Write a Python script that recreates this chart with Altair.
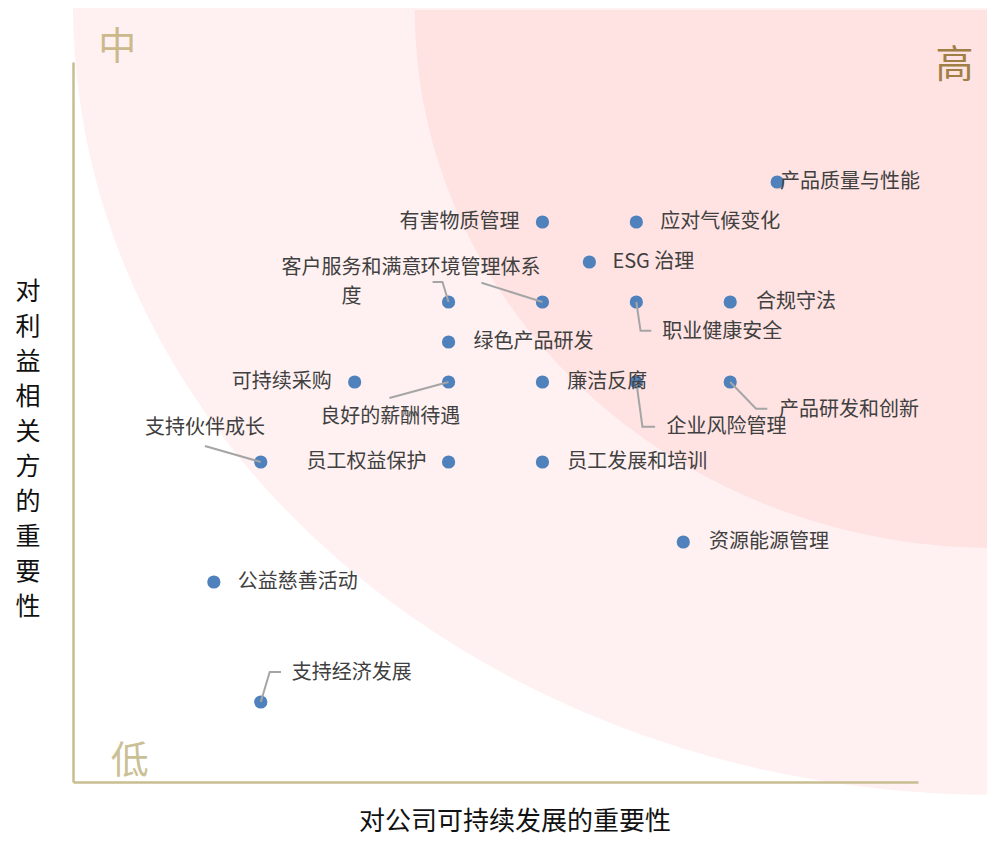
import altair as alt
import pandas as pd

# ---------------- data ----------------
topics = ["产品质量与性能", "有害物质管理", "应对气候变化", "ESG 治理", "客户服务和满意度",
          "环境管理体系", "合规守法", "职业健康安全", "绿色产品研发", "可持续采购",
          "良好的薪酬待遇", "廉洁反腐", "企业风险管理", "产品研发和创新", "支持伙伴成长",
          "员工权益保护", "员工发展和培训", "资源能源管理", "公益慈善活动", "支持经济发展"]
company_importance = [15, 10, 12, 11, 8, 10, 14, 12, 8, 6, 8, 10, 12, 14, 4, 8, 10, 13, 3, 4]
stakeholder_importance = [15, 14, 14, 13, 12, 12, 12, 12, 11, 10, 10, 10, 10, 10, 8, 8, 8, 6, 5, 2]

label_text = ["产品质量与性能", "有害物质管理", "应对气候变化", "ESG 治理", "客户服务和满意\n度",
              "环境管理体系", "合规守法", "职业健康安全", "绿色产品研发", "可持续采购",
              "良好的薪酬待遇", "廉洁反腐", "企业风险管理", "产品研发和创新", "支持伙伴成长",
              "员工权益保护", "员工发展和培训", "资源能源管理", "公益慈善活动", "支持经济发展"]
label_x = [15.06, 9.51, 12.51, 11.49, 5.93, 7.40, 14.55, 12.55, 8.53, 5.51,
           6.76, 10.53, 12.64, 15.04, 2.81, 7.53, 10.53, 13.55, 3.51, 4.66]
label_y = [15.0, 14.0, 14.0, 13.0, 12.85, 12.85, 12.0, 11.25, 11.0, 10.0,
           9.125, 10.0, 8.875, 9.3, 8.85, 8.0, 8.0, 6.0, 5.0, 2.72]
label_align = ["left", "right", "left", "left", "center", "left", "left", "left", "left", "right",
               "center", "left", "left", "left", "center", "right", "left", "left", "left", "left"]

leader_topic = ["客户服务和满意度"] * 3 + ["环境管理体系"] * 2 + ["职业健康安全"] * 3 + \
               ["企业风险管理"] * 3 + ["产品研发和创新"] * 3 + ["良好的薪酬待遇"] * 2 + \
               ["支持伙伴成长"] * 2 + ["支持经济发展"] * 3
leader_seq = [0, 1, 2, 0, 1, 0, 1, 2, 0, 1, 2, 0, 1, 2, 0, 1, 0, 1, 0, 1, 2]
leader_x = [7.66, 7.87, 8.0, 8.70, 10.0, 12.0, 12.09, 12.32, 12.0, 12.13, 12.40,
            14.0, 14.55, 14.79, 6.74, 8.0, 2.81, 4.0, 4.0, 4.19, 4.43]
leader_y = [12.5, 12.5, 12.0, 12.48, 12.0, 12.0, 11.28, 11.28, 10.0, 8.88, 8.88,
            10.0, 9.33, 9.33, 9.6, 10.0, 8.4, 8.0, 2.0, 2.75, 2.75]

corner_text = ["中", "高", "低"]
corner_x = [0.94, 18.78, 1.21]
corner_y = [18.35, 17.9, 0.5]
corner_color = ["#cbb98c", "#a07f45", "#cbbf95"]

x_title = "对公司可持续发展的重要性"
y_title = "对利益相关方的重要性"

# ---------------- style ----------------
FONT = "Noto Sans CJK SC"
W, H = 845, 720
DOMAIN = [0, 18]
xs = alt.Scale(domain=DOMAIN, nice=False, zero=False)
ys = alt.Scale(domain=DOMAIN, nice=False, zero=False)
AX = dict(domain=True, domainColor="#c8bc92", domainWidth=2.5, ticks=False,
          labels=False, grid=False, title=None, zindex=1)


def X(f):
    return alt.X(f, scale=xs, axis=alt.Axis(**AX))


def Y(f):
    return alt.Y(f, scale=ys, axis=alt.Axis(**AX))


# background zones (quarter ellipses, parameters in data units)
zones = [
    # cx, cy, a, b, color
    (19.62, 19.43, 19.62, 19.75, "#fff1f1"),
    (19.62, 19.30, 12.34, 13.45, "#ffe3e3"),
]
sweep = pd.DataFrame({"deg": [i * 0.5 for i in range(181)]})

layers = []
for cx, cy, a, b, col in zones:
    z = (
        alt.Chart(sweep)
        .transform_calculate(
            ex=f"{cx} - {a} * cos(datum.deg * PI / 180)",
            ey=f"{cy} - {b} * sin(datum.deg * PI / 180)",
            ey2=f"{cy} + 0",
        )
        .mark_area(color=col, clip=False, opacity=1, interpolate="linear")
        .encode(x=X("ex:Q"), y=Y("ey:Q"), y2="ey2:Q")
    )
    layers.append(z)

pts_df = pd.DataFrame({"topic": topics, "x": company_importance, "y": stakeholder_importance})
points = alt.Chart(pts_df).mark_circle(size=175, color="#4f81bd", opacity=1).encode(
    x=X("x:Q"), y=Y("y:Q"),
)
layers.append(points)

lead_df = pd.DataFrame({"topic": leader_topic, "seq": leader_seq, "x": leader_x, "y": leader_y})
leaders = alt.Chart(lead_df).mark_line(color="#a5a5a5", strokeWidth=2, clip=False).encode(
    x=X("x:Q"), y=Y("y:Q"), detail="topic:N", order="seq:Q",
)
layers.append(leaders)

lab_df = pd.DataFrame({"label": label_text, "x": label_x, "y": label_y, "align": label_align})
for al in ["left", "right", "center"]:
    t = (
        alt.Chart(lab_df)
        .transform_filter(alt.datum.align == al)
        .mark_text(align=al, baseline="middle", font=FONT, fontSize=20, color="#404040",
                   lineBreak="\n", lineHeight=29, clip=False)
        .encode(x=X("x:Q"), y=Y("y:Q"), text="label:N")
    )
    layers.append(t)

corner_df = pd.DataFrame({"t": corner_text, "x": corner_x, "y": corner_y, "c": corner_color})
corners = alt.Chart(corner_df).mark_text(font=FONT, fontSize=38, align="center",
                                         baseline="middle", clip=False).encode(
    x=X("x:Q"), y=Y("y:Q"), text="t:N",
    color=alt.Color("c:N", scale=None),
)
layers.append(corners)

xt = alt.Chart(pd.DataFrame({"t": [x_title]})).mark_text(
    font=FONT, fontSize=26, color="#111111", align="center", baseline="middle"
).encode(x=alt.value(442), y=alt.value(760), text="t:N")
layers.append(xt)

yt = alt.Chart(pd.DataFrame({"t": [y_title]})).mark_text(
    font=FONT, fontSize=25, color="#111111", align="center", baseline="middle", lineHeight=35
).encode(x=alt.value(-45), y=alt.value(230), text=alt.value(list(y_title)))
layers.append(yt)

chart = (
    alt.layer(*layers)
    .properties(
        width=W, height=H,
        padding={"left": 65, "top": 54, "right": 69, "bottom": 59},
        autosize=alt.AutoSizeParams(type="none"),
        background="white",
    )
    .configure_view(stroke=None)
)

chart.save("out.html", embed_options={"renderer": "svg", "actions": False})
